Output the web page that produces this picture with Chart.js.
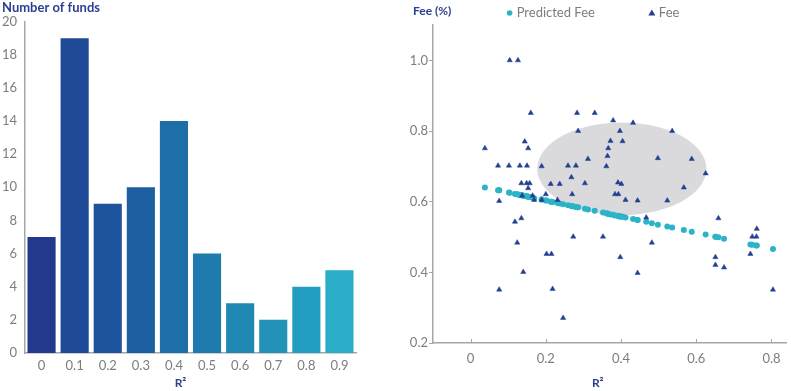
<!DOCTYPE html>
<html lang="en">
<head>
<meta charset="UTF-8">
<title>Number of funds by R² and fee vs R²</title>
<script src="https://cdn.jsdelivr.net/npm/chart.js@4.4.1/dist/chart.umd.min.js"></script>
<style>
  html, body { margin: 0; padding: 0; background: #fff; }
  .box { position: absolute; top: 0; height: 391px; }
  #leftBox { left: 0; width: 395px; }
  #rightBox { left: 395px; width: 396px; }
</style>
</head>
<body>
<div class="box" id="leftBox"><canvas id="histChart"></canvas></div>
<div class="box" id="rightBox"><canvas id="feeChart"></canvas></div>
<script>
// histogram of funds by R²
const r2Bins = ['0', '0.1', '0.2', '0.3', '0.4', '0.5', '0.6', '0.7', '0.8', '0.9'];
const fundCounts = [7, 19, 9, 10, 14, 6, 3, 2, 4, 5];
const binColors = ['#23398e', '#1e4a98', '#1d549c', '#1c5fa1', '#1e6ea8',
                   '#1f7aae', '#2187b3', '#2292b8', '#249ec0', '#29adc8'];

const fundR2 = [0.038, 0.073, 0.076, 0.076, 0.102, 0.104, 0.118, 0.124, 0.126, 0.131,
                0.135, 0.135, 0.137, 0.140, 0.144, 0.149, 0.150, 0.153, 0.153, 0.157,
                0.160, 0.165, 0.169, 0.189, 0.189, 0.200, 0.202, 0.213, 0.215, 0.218,
                0.231, 0.237, 0.246, 0.259, 0.268, 0.270, 0.273, 0.280, 0.283, 0.286,
                0.304, 0.312, 0.330, 0.352, 0.361, 0.364, 0.366, 0.372, 0.379, 0.384,
                0.392, 0.393, 0.397, 0.398, 0.401, 0.404, 0.412, 0.432, 0.444, 0.444,
                0.467, 0.482, 0.498, 0.523, 0.536, 0.567, 0.588, 0.625, 0.651, 0.651,
                0.659, 0.674, 0.744, 0.749, 0.760, 0.761, 0.804];
const fundFee = [0.751, 0.702, 0.602, 0.351, 0.702, 1.000, 0.543, 0.484, 1.000, 0.702,
                 0.652, 0.553, 0.617, 0.401, 0.770, 0.652, 0.702, 0.751, 0.638, 0.652,
                 0.851, 0.617, 0.605, 0.700, 0.605, 0.621, 0.452, 0.650, 0.452, 0.353,
                 0.605, 0.650, 0.271, 0.702, 0.669, 0.621, 0.501, 0.702, 0.851, 0.800,
                 0.652, 0.721, 0.851, 0.501, 0.700, 0.729, 0.751, 0.772, 0.830, 0.621,
                 0.654, 0.621, 0.800, 0.443, 0.650, 0.771, 0.605, 0.823, 0.603, 0.398,
                 0.555, 0.484, 0.723, 0.603, 0.800, 0.640, 0.721, 0.680, 0.443, 0.421,
                 0.553, 0.414, 0.452, 0.501, 0.501, 0.523, 0.351];
const predictedFee = [0.640, 0.632, 0.632, 0.632, 0.626, 0.625, 0.622, 0.621, 0.620, 0.619,
                      0.618, 0.618, 0.618, 0.617, 0.616, 0.615, 0.615, 0.614, 0.614, 0.613,
                      0.613, 0.611, 0.610, 0.606, 0.606, 0.603, 0.603, 0.600, 0.600, 0.599,
                      0.596, 0.595, 0.593, 0.590, 0.588, 0.587, 0.587, 0.585, 0.584, 0.584,
                      0.580, 0.578, 0.574, 0.569, 0.567, 0.566, 0.566, 0.564, 0.563, 0.561,
                      0.560, 0.559, 0.558, 0.558, 0.558, 0.557, 0.555, 0.551, 0.548, 0.548,
                      0.543, 0.539, 0.535, 0.530, 0.527, 0.520, 0.515, 0.507, 0.501, 0.501,
                      0.499, 0.495, 0.479, 0.478, 0.476, 0.476, 0.466];
const feeXTicks = [0, 0.2, 0.4, 0.6, 0.8];
const feeYTicks = [0.2, 0.4, 0.6, 0.8, 1.0];
const legendLabels = ['Predicted Fee', 'Fee'];
// grey shaded cluster: centre R², centre fee, half-width, half-height
const clusterEllipse = [0.402, 0.693, 0.225, 0.131];

Chart.defaults.font.family = 'Lato, "Open Sans", sans-serif';
Chart.defaults.animation = false;

const axisGrey = '#a6a6a6';
const tickGrey = '#7d7d7d';
const titleBlue = '#2b3f92';
const captionFont = 'bold 12px Lato, "Open Sans", sans-serif';

// draws a short caption (axis names) next to the plot area
function caption(id, text, place) {
  return {
    id,
    afterDraw(chart) {
      const { ctx, chartArea } = chart;
      const [x, y, align] = place(chartArea);
      ctx.save();
      ctx.font = place.font || captionFont;
      ctx.fillStyle = titleBlue;
      ctx.textAlign = align;
      ctx.textBaseline = 'middle';
      ctx.fillText(text, x, y);
      ctx.restore();
    }
  };
}

new Chart(document.getElementById('histChart'), {
  type: 'bar',
  data: {
    labels: r2Bins,
    datasets: [{
      data: fundCounts,
      backgroundColor: binColors,
      borderWidth: 0,
      barPercentage: 0.85,
      categoryPercentage: 1
    }]
  },
  options: {
    responsive: true,
    maintainAspectRatio: false,
    layout: { padding: { left: 2, right: 39, top: 0, bottom: 1 } },
    plugins: {
      legend: { display: false },
      tooltip: { enabled: false },
      title: {
        display: true,
        text: 'Number of funds',
        align: 'start',
        color: titleBlue,
        font: { size: 13, weight: 'bold' },
        padding: { top: 0, bottom: 6 }
      }
    },
    scales: {
      x: {
        grid: { display: false, drawTicks: false },
        border: { display: true, color: axisGrey, width: 1.5 },
        ticks: { color: tickGrey, font: { size: 13 }, padding: 5 },
        afterFit: s => { s.height = 37; }
      },
      y: {
        min: 0, max: 20,
        grid: { display: false, drawTicks: false },
        border: { display: true, color: axisGrey, width: 1.5 },
        ticks: { stepSize: 2, color: tickGrey, font: { size: 13 }, padding: 8 },
        afterFit: s => { s.width = 23; }
      }
    }
  },
  plugins: [caption('histR2', 'R²', a => [(a.left + a.right) / 2 - 10, a.bottom + 30, 'center'])]
});

// grey ellipse behind the scatter
const ellipsePlugin = {
  id: 'clusterEllipse',
  beforeDatasetsDraw(chart) {
    const { ctx, scales: { x, y } } = chart;
    const [cxv, cyv, rxv, ryv] = clusterEllipse;
    const cx = x.getPixelForValue(cxv), cy = y.getPixelForValue(cyv);
    const rx = x.getPixelForValue(cxv + rxv) - cx;
    const ry = cy - y.getPixelForValue(cyv + ryv);
    ctx.save();
    ctx.fillStyle = '#dadadc';
    ctx.beginPath();
    ctx.ellipse(cx, cy, rx, ry, 0, 0, Math.PI * 2);
    ctx.fill();
    ctx.restore();
  }
};

// small inward tick marks on the R² axis
const innerTicks = {
  id: 'innerTicks',
  afterDraw(chart) {
    const { ctx, scales: { x }, chartArea } = chart;
    ctx.save();
    ctx.strokeStyle = axisGrey;
    ctx.lineWidth = 1;
    feeXTicks.forEach(v => {
      const px = Math.round(x.getPixelForValue(v)) + 0.5;
      ctx.beginPath();
      ctx.moveTo(px, chartArea.bottom - 4);
      ctx.lineTo(px, chartArea.bottom);
      ctx.stroke();
    });
    ctx.restore();
  }
};

// legend row at the top, spaced like the original
const feeLegend = {
  id: 'feeLegend',
  afterDraw(chart) {
    const ctx = chart.ctx;
    ctx.save();
    ctx.font = '13px Lato, "Open Sans", sans-serif';
    ctx.textBaseline = 'middle';
    const gap = 54;
    const items = legendLabels.map((text, i) => ({
      text, ds: chart.data.datasets[i], w: 10 + ctx.measureText(text).width
    }));
    const total = items.reduce((a, it) => a + it.w, 0) + gap * (items.length - 1);
    let x = chart.width / 2 - total / 2;
    const y = 13;
    items.forEach(it => {
      ctx.fillStyle = it.ds.backgroundColor;
      ctx.beginPath();
      if (it.ds.pointStyle === 'triangle') {
        ctx.moveTo(x + 3, y - 3.5);
        ctx.lineTo(x + 6.5, y + 2.5);
        ctx.lineTo(x - 0.5, y + 2.5);
        ctx.closePath();
      } else {
        ctx.arc(x + 3, y, 2.8, 0, Math.PI * 2);
      }
      ctx.fill();
      ctx.fillStyle = tickGrey;
      ctx.fillText(it.text, x + 10, y);
      x += it.w + gap;
    });
    ctx.restore();
  }
};

new Chart(document.getElementById('feeChart'), {
  type: 'scatter',
  data: {
    datasets: [
      {
        label: legendLabels[0],
        data: fundR2.map((r, i) => ({ x: r, y: predictedFee[i] })),
        pointStyle: 'circle',
        radius: 3,
        backgroundColor: '#2cb3c7',
        borderWidth: 0,
        order: 1
      },
      {
        label: legendLabels[1],
        data: fundR2.map((r, i) => ({ x: r, y: fundFee[i] })),
        pointStyle: 'triangle',
        radius: 3,
        backgroundColor: '#233f91',
        borderColor: '#233f91',
        borderWidth: 0.5,
        order: 0
      }
    ]
  },
  options: {
    responsive: true,
    maintainAspectRatio: false,
    layout: { padding: { left: 0, right: 3, top: 25, bottom: 1 } },
    plugins: {
      legend: { display: false },
      tooltip: { enabled: false }
    },
    scales: {
      x: {
        type: 'linear',
        min: -0.1, max: 0.84,
        afterBuildTicks: s => { s.ticks = feeXTicks.map(v => ({ value: v })); },
        grid: { display: false, drawTicks: false },
        border: { display: true, color: axisGrey, width: 1.5 },
        ticks: {
          color: tickGrey, font: { size: 13 }, padding: 8,
          callback: v => (v === 0 ? '0' : v.toFixed(1))
        },
        afterFit: s => { s.height = 47; }
      },
      y: {
        min: 0.2, max: 1.1,
        afterBuildTicks: s => { s.ticks = feeYTicks.map(v => ({ value: v })); },
        grid: { display: true, drawOnChartArea: false, drawTicks: true, tickLength: 4, color: axisGrey },
        border: { display: true, color: axisGrey, width: 1.5 },
        ticks: { color: tickGrey, font: { size: 13 }, padding: 1, callback: v => v.toFixed(1) },
        afterFit: s => { s.width = 38; }
      }
    }
  },
  plugins: [
    ellipsePlugin, innerTicks, feeLegend,
    caption('feeTitle', 'Fee (%)', a => [a.left - 20, 11, 'left']),
    caption('feeR2', 'R²', a => [(a.left + a.right) / 2 - 12, a.bottom + 40, 'center'])
  ]
});
</script>
</body>
</html>
